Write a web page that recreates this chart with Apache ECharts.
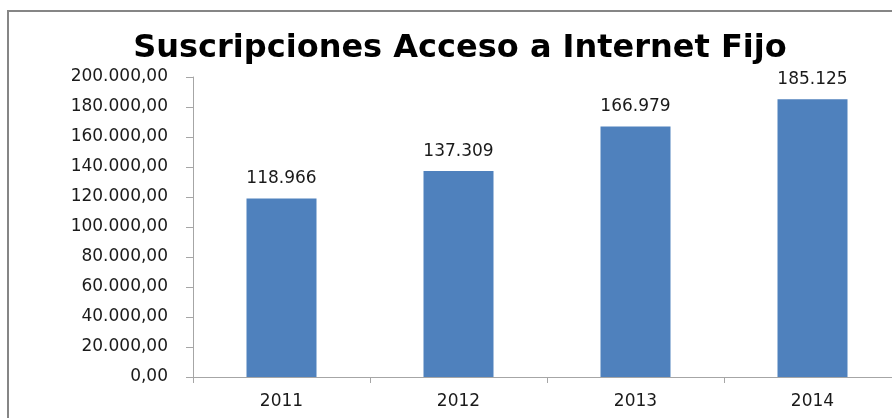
<!DOCTYPE html>
<html>
<head>
<meta charset="utf-8">
<script src="https://cdn.jsdelivr.net/npm/echarts@6/dist/echarts.min.js"></script>
<style>
  html, body { margin: 0; padding: 0; background: #fff; overflow: hidden; width: 892px; height: 418px; }
  /* the plot runs past the right edge of the page, so the canvas is wider than the view */
  #chart { width: 912px; height: 418px; }
</style>
</head>
<body>
<div id="chart"></div>
<script>
// Fixed-line internet access subscriptions per year
const years = ['2011', '2012', '2013', '2014'];
const subscriptions = [118966, 137309, 166979, 185125];
const yTicks = [0, 20000, 40000, 60000, 80000, 100000, 120000, 140000, 160000, 180000, 200000];

function thousands(n) {
  return String(Math.round(n)).replace(/\B(?=(\d{3})+(?!\d))/g, '.');
}

const fontFamily = '"DejaVu Sans", Verdana, sans-serif';
const chart = echarts.init(document.getElementById('chart'));

chart.setOption({
  animation: false,
  backgroundColor: '#fff',
  title: {
    text: 'Suscripciones Acceso a Internet Fijo',
    left: 455,
    textAlign: 'center',
    top: 28,
    textStyle: { fontFamily: fontFamily, fontWeight: 'bold', fontSize: 32, color: '#000' }
  },
  graphic: [{
    type: 'rect',
    shape: { x: 8, y: 11, width: 920, height: 420 },
    style: { fill: 'none', stroke: '#868686', lineWidth: 2 },
    silent: true
  }],
  grid: { left: 193, top: 77, width: 708, height: 300 },
  xAxis: {
    type: 'category',
    data: years,
    axisLine: { lineStyle: { color: '#a6a6a6', width: 1 } },
    axisTick: { show: true, length: 6, lineStyle: { color: '#a6a6a6' } },
    axisLabel: { fontFamily: fontFamily, fontSize: 17, color: '#1a1a1a', margin: 16 }
  },
  yAxis: {
    type: 'value',
    min: yTicks[0],
    max: yTicks[yTicks.length - 1],
    interval: yTicks[1] - yTicks[0],
    splitLine: { show: false },
    axisLine: { show: true, lineStyle: { color: '#a6a6a6', width: 1 } },
    axisTick: { show: true, length: 7, lineStyle: { color: '#a6a6a6' } },
    axisLabel: {
      fontFamily: fontFamily, fontSize: 17, color: '#1a1a1a', margin: 25,
      formatter: v => thousands(v) + ',00'
    }
  },
  series: [{
    type: 'bar',
    data: subscriptions,
    barWidth: 70,
    itemStyle: { color: '#4f81bd' },
    label: {
      show: true,
      position: 'top',
      distance: 11,
      fontFamily: fontFamily,
      fontSize: 17,
      color: '#1a1a1a',
      formatter: p => thousands(p.value)
    }
  }]
});
</script>
</body>
</html>
